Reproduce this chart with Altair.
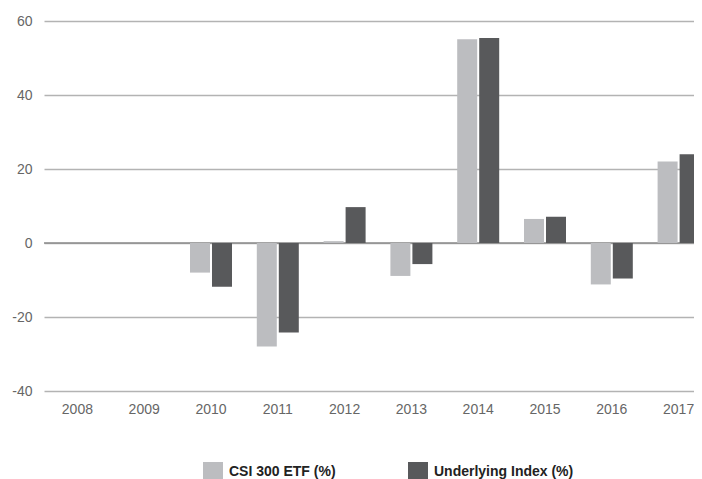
import altair as alt
import pandas as pd

years = ["2008", "2009", "2010", "2011", "2012", "2013", "2014", "2015", "2016", "2017"]
series_names = ["CSI 300 ETF (%)", "Underlying Index (%)"]
etf_values = [0.0, 0.0, -8.0, -28.0, 0.5, -8.9, 55.1, 6.5, -11.2, 22.0]
index_values = [0.0, 0.0, -11.8, -24.2, 9.7, -5.7, 55.4, 7.1, -9.6, 24.0]
colors = ["#bcbdc0", "#58595b"]
y_ticks = [-40, -20, 0, 20, 40, 60]

rows = []
for y, a, b in zip(years, etf_values, index_values):
    rows.append({"year": y, "series": series_names[0], "value": a})
    rows.append({"year": y, "series": series_names[1], "value": b})
df = pd.DataFrame(rows)

font = "Liberation Sans"

bars = alt.Chart(df).mark_bar().encode(
    x=alt.X("year:N", sort=years,
            scale=alt.Scale(paddingInner=0, paddingOuter=0, range=[0, 668]),
            axis=alt.Axis(title=None, domain=False, ticks=False, grid=False,
                          labelAngle=0, labelFontSize=14, labelColor="#666666",
                          labelFont=font, labelPadding=11)),
    xOffset=alt.XOffset("series:N", sort=series_names,
                        scale=alt.Scale(paddingInner=0.0909, paddingOuter=0.5636)),
    y=alt.Y("value:Q", scale=alt.Scale(domain=[-40, 60], nice=False),
            axis=alt.Axis(title=None, values=y_ticks, domain=False, ticks=False,
                          grid=True, gridColor="#b3b3b3", gridWidth=1.5,
                          labelFontSize=14, labelColor="#666666", labelFont=font,
                          labelPadding=12,
                          labelExpr="replace(datum.label, '\u2212', '-')")),
    color=alt.Color("series:N", sort=series_names,
                    scale=alt.Scale(domain=series_names, range=colors),
                    legend=alt.Legend(title=None, orient="none", legendX=159, legendY=441,
                                      direction="horizontal", symbolType="square",
                                      symbolSize=400, symbolStrokeWidth=0,
                                      labelFontSize=14, labelFontWeight="bold",
                                      labelColor="#222222", labelFont=font,
                                      labelOffset=6, columnPadding=72, padding=0)),
)

zero = alt.Chart(pd.DataFrame({"v": [0]})).mark_rule(color="#8c8c8c", strokeWidth=1.5).encode(
    y=alt.Y("v:Q")
)

chart = alt.layer(zero, bars).properties(
    width=650, height=370,
    autosize=alt.AutoSizeParams(type="none"),
    padding={"left": 36, "top": 13, "right": 0, "bottom": 88},
).configure_view(stroke=None)

chart.save("out.html", embed_options={"renderer": "svg", "actions": False})
